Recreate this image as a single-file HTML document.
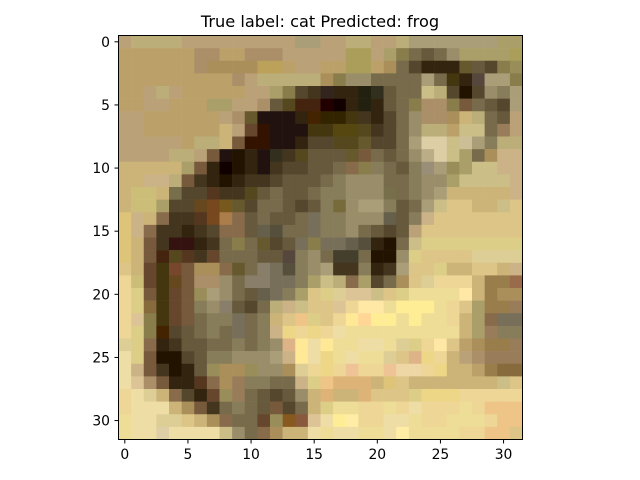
<!DOCTYPE html>
<html><head><meta charset="utf-8"><style>
html,body{margin:0;padding:0;background:#fff;}
svg{display:block;font-family:"DejaVu Sans","Liberation Sans",sans-serif;}
</style></head><body>
<svg id="chart" width="640" height="480" viewBox="0 0 640 480" xmlns="http://www.w3.org/2000/svg">
<rect x="0" y="0" width="640" height="480" fill="#fff"/>
<text x="320" y="27" text-anchor="middle" font-size="16.2" fill="#000">True label: cat Predicted: frog</text>
<g id="cells"></g>
<rect x="118.5" y="35.5" width="404" height="404" fill="none" stroke="#000" stroke-width="1"/>
<g id="ticks"></g>
</svg>
<script>
const xTicks = [0,5,10,15,20,25,30];
const yTicks = [0,5,10,15,20,25,30];
const rowsTop = [
"b98 ba8 ba8 ba8 ba8 b98 b98 b98 b98 b98 b98 b98 b98 b98 a98 a98 b98 b98 ba8 ba8 b98 b98 ba8 a98 a98 a98 a98 a98 a98 a98 a97 a97",
"b97 b97 b97 b97 b97 b97 a87 a87 b97 b97 a87 a87 a87 b98 b98 b98 b98 b98 a96 a96 b98 a97 875 765 654 765 987 a97 a97 a97 a97 a96",
"b97 b97 b97 b97 b97 b97 a87 a86 a86 a86 a86 b96 b96 b97 b98 b98 b97 b97 a96 a96 b97 a86 765 543 321 321 321 653 654 543 875 986",
"b97 b97 b97 b97 b97 b97 b97 b97 b97 a87 b98 ba8 ba8 ba8 ba8 ba8 a86 875 987 987 765 765 765 765 a98 765 431 321 544 a98 a98 875",
"b97 b97 b98 ba8 b98 b97 b97 b97 b97 b97 b98 b98 a97 875 543 432 322 321 321 221 332 654 765 765 cb9 ba8 543 210 543 987 876 a98",
"b97 b97 b98 b98 b97 b97 b97 a97 a97 b98 b98 a87 654 542 421 421 200 100 321 221 321 654 765 875 a87 a87 875 754 765 654 543 a98",
"b98 b98 b97 b97 b97 b97 b97 b97 b98 a87 653 211 211 211 321 420 320 320 431 432 321 543 765 987 a87 a87 a86 ca8 ba8 765 654 b98",
"b98 b98 b97 b97 b97 b97 b97 b97 ca8 b98 643 310 211 211 211 431 431 541 541 542 432 543 765 987 ba8 ba8 b97 cb9 cb9 765 976 b98",
"b98 b98 b98 b98 b98 b97 ba8 ba8 ca8 754 310 310 211 211 321 543 543 542 542 653 543 543 765 a98 ddb ddb cc9 cca a98 876 ba8 ba8",
"b98 b98 b98 b98 ba8 ba8 b98 754 211 210 321 211 332 432 542 654 654 654 653 754 765 654 765 997 bb9 ddb cc9 a97 765 a86 ca9 ca9",
"ca8 ca8 ca8 ca8 ca8 a97 754 321 100 210 321 211 432 543 543 654 654 765 865 875 876 765 654 876 998 aa8 986 a97 cb9 cb9 ca9 ca9",
"ca8 ca8 ca9 ca9 ba8 754 432 321 210 321 432 432 543 654 654 654 765 876 987 987 987 765 765 876 987 987 a97 cb9 cb9 cb9 cb9 ca9",
"ca8 cb8 cb8 ca8 775 543 543 532 432 432 542 654 765 654 654 765 876 876 987 987 987 775 765 876 987 a98 ca8 ca8 ca8 ca8 ca8 ca9",
"ca8 cb8 cb8 a97 543 543 642 742 752 653 543 765 765 654 543 654 876 764 987 a98 a98 876 654 765 a98 cb9 db9 db9 ca8 ca8 cb9 db9",
"db8 ca9 ca8 865 432 432 532 742 a75 865 654 765 654 654 765 776 876 876 987 987 987 665 654 876 ca9 db9 db9 db9 db9 db9 db9 db9",
"db8 ca9 865 432 432 321 432 543 865 865 654 665 554 765 765 776 876 876 987 765 654 543 654 b98 db9 db9 db9 db9 db9 db9 db9 db9"
];
const rowsBottom = [
"db8 ca8 754 432 311 311 321 432 765 875 765 653 543 654 776 875 776 776 665 554 321 210 765 cb9 dc9 dc9 dc9 dc9 dc9 dc9 dc9 dc9",
"db8 ca8 754 421 542 532 432 643 765 765 765 654 654 544 876 987 765 443 443 765 210 210 987 dc9 db9 db9 db9 db9 dca dca dca dca",
"db9 ca8 643 431 743 754 a86 a86 865 653 765 887 776 554 876 987 a98 432 432 876 321 432 a98 db9 db9 dc9 ca8 ca8 db9 db9 ca8 ca9",
"eca cb8 643 431 642 754 a87 a87 987 765 887 887 776 776 876 a97 cb9 ba8 865 a97 543 765 a86 db9 dca eca eca eca ca8 975 975 965",
"eca dc9 754 431 643 754 986 a98 987 765 654 665 776 876 a97 db9 dc9 dca dba dba cb9 db9 dc9 eda eda eda eda fdb ca8 975 a86 a86",
"eca dc9 864 431 643 754 876 987 887 654 543 765 ba8 ca9 cb9 db9 db9 dba eca fdb fdb eda fea fea fea eda eca db9 a97 975 975 976",
"eca dba 875 431 643 754 765 876 876 776 765 876 ca8 db9 eb9 dc9 db9 eca fda fca fea fea eea fea eea eda eca ca8 a97 865 776 776",
"eca dc9 875 420 543 654 765 876 765 776 765 876 ca9 ec9 eca ec9 eca edb eda eda eda eda eda eda eea eda eda ca8 a97 976 876 876",
"dca dc9 865 321 432 654 654 765 765 876 765 876 987 da9 fda edb fda eda eea edb eeb eda dca dc9 eca fdb db9 b97 a86 975 975 976",
"edb dc9 754 210 210 543 654 876 876 987 987 987 a98 ca9 fda edb ec9 eda edb eda eda dca db9 da9 ec9 eca ca8 b98 a87 976 976 976",
"edb ca9 754 432 210 321 654 986 a86 a86 986 987 987 a86 dca eca ec9 eca eba eca eca eba ecb ecb eca ec9 ca8 ca8 b97 975 864 864",
"edb dba a87 754 321 321 532 865 a86 976 876 876 765 765 ca9 dc9 eb9 da8 da8 da8 ca8 db8 db9 ca8 ca8 ca8 ca8 ca8 ca8 ca8 cb9 db9",
"eca edb dca ca8 865 543 321 643 986 976 765 654 543 654 987 ca8 da8 ca8 ca8 da8 db9 db9 db9 dc9 ec9 ec9 ec9 eca eca eca eca eca",
"eca edb edb edb ca8 a86 754 432 765 876 765 654 754 543 765 ca8 dc9 eda eda eca eca eda eca edb eca eca eca eda eca eb9 eb9 eb9",
"eda edb edb dca dca db9 ca8 a86 865 765 765 643 986 852 854 dba edb fea feb eca eca edb edb eda eca eca eda eda eda eca eb9 eb9",
"eda edb edb dcb edb edb edb edb cb9 987 765 865 a86 ca8 ca8 edb eda eeb edb eda eda eeb feb eda eda eda eda eca eca eb9 eb9 db9"
];
const X0 = 118.5, Y0 = 35.5, S = 404/32;
function xPos(v){ return X0 + (v + 0.5) * S; }
function yPos(v){ return Y0 + (v + 0.5) * S; }
function toColor(c){
  let r = parseInt(c[0],16)*17, g = parseInt(c[1],16)*17, b = parseInt(c[2],16)*17;
  g = Math.round(Math.min(g*1.05, r*0.93, 255));
  b = Math.round(Math.min(b*0.88, g*0.86));
  return 'rgb(' + r + ',' + g + ',' + b + ')';
}
const NS = "http://www.w3.org/2000/svg";
const cells = document.getElementById('cells');
const rows = rowsTop.concat(rowsBottom);
rows.forEach((row, r) => {
  row.split(' ').forEach((c, col) => {
    const el = document.createElementNS(NS, 'rect');
    el.setAttribute('x', (xPos(col) - S/2).toFixed(2));
    el.setAttribute('y', (yPos(r) - S/2).toFixed(2));
    el.setAttribute('width', (S + 0.3).toFixed(2));
    el.setAttribute('height', (S + 0.3).toFixed(2));
    el.setAttribute('fill', toColor(c));
    
    
    cells.appendChild(el);
  });
});
const ticks = document.getElementById('ticks');
xTicks.forEach(v => {
  const x = xPos(v);
  const l = document.createElementNS(NS, 'line');
  l.setAttribute('x1', x); l.setAttribute('x2', x);
  l.setAttribute('y1', 439.5); l.setAttribute('y2', 443.5);
  l.setAttribute('stroke', '#000');
  
  
  ticks.appendChild(l);
  const t = document.createElementNS(NS, 'text');
  t.setAttribute('x', x); t.setAttribute('y', 459);
  t.setAttribute('text-anchor', 'middle'); t.setAttribute('font-size', '13.9');
  t.textContent = v;
  
  
  ticks.appendChild(t);
});
yTicks.forEach(v => {
  const y = yPos(v);
  const l = document.createElementNS(NS, 'line');
  l.setAttribute('x1', 114.5); l.setAttribute('x2', 118.5);
  l.setAttribute('y1', y); l.setAttribute('y2', y);
  l.setAttribute('stroke', '#000');
  
  
  ticks.appendChild(l);
  const t = document.createElementNS(NS, 'text');
  t.setAttribute('x', 110); t.setAttribute('y', y + 5);
  t.setAttribute('text-anchor', 'end'); t.setAttribute('font-size', '13.9');
  t.textContent = v;
  
  
  ticks.appendChild(t);
});
</script>
</body></html>
